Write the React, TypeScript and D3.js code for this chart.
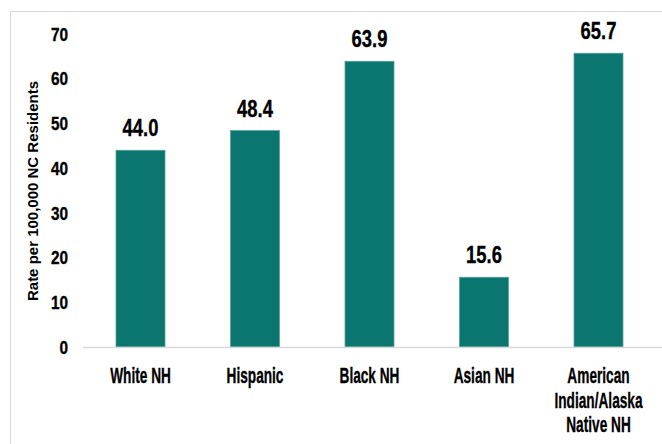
import React from "react";
import * as d3 from "d3";

const categories: string[][] = [
  ["White NH"],
  ["Hispanic"],
  ["Black NH"],
  ["Asian NH"],
  ["American", "Indian/Alaska", "Native NH"],
];
const values: number[] = [44.0, 48.4, 63.9, 15.6, 65.7];
const yTicks: number[] = [0, 10, 20, 30, 40, 50, 60, 70];
const yTitle = "Rate per 100,000 NC Residents";

const W = 662;
const H = 444;
const FONT = "'Liberation Sans', Arial, sans-serif";

function CText(props: {
  x: number;
  y: number;
  sx: number;
  size: number;
  anchor: string;
  dy?: string;
  children: React.ReactNode;
}) {
  return (
    <g transform={`translate(${props.x},${props.y}) scale(${props.sx},1)`}>
      <text
        x={0}
        y={0}
        dy={props.dy}
        textAnchor={props.anchor as any}
        fontFamily={FONT}
        fontWeight="bold"
        fontSize={props.size}
        fill="#000"
        stroke="#000"
        strokeWidth={0.35}
      >
        {props.children}
      </text>
    </g>
  );
}

export default function App() {
  const x = d3
    .scaleBand<number>()
    .domain(values.map((_, i) => i))
    .range([83.25, 655.75])
    .paddingInner(0.572)
    .paddingOuter(0.286);
  const y = d3.scaleLinear().domain([0, 70]).range([347, 34]);

  return (
    <svg
      width={W}
      height={H}
      style={{ position: "absolute", left: 0, top: 0, background: "#fff" }}
    >
      <rect x={0} y={0} width={W} height={H} fill="#fff" />
      {/* frame */}
      <line x1={10.5} y1={11.5} x2={W} y2={11.5} stroke="#d9d9d9" strokeWidth={1} />
      <line x1={10.5} y1={11.5} x2={10.5} y2={H} stroke="#d9d9d9" strokeWidth={1} />

      {/* y ticks */}
      {yTicks.map((t) => (
        <CText key={t} x={68} y={y(t)} dy="0.36em" sx={0.82} size={18.7} anchor="end">
          {t}
        </CText>
      ))}

      {/* y title */}
      <text
        transform={`translate(38,${191}) rotate(-90)`}
        textAnchor="middle"
        fontFamily={FONT}
        fontWeight="bold"
        fontSize={15}
        fill="#000"
      >
        {yTitle}
      </text>

      {/* bars */}
      {values.map((v, i) => (
        <rect
          key={i}
          x={x(i)!}
          y={y(v)}
          width={x.bandwidth()}
          height={y(0) - y(v)}
          fill="#0b7570"
          stroke="#5aa29c"
          strokeWidth={0.8}
        />
      ))}

      {/* baseline */}
      <line x1={83} y1={347.5} x2={W} y2={347.5} stroke="#d9d9d9" strokeWidth={1.5} />

      {/* value labels */}
      {values.map((v, i) => (
        <CText
          key={i}
          x={x(i)! + x.bandwidth() / 2}
          y={y(v) - 14}
          sx={0.8}
          size={23}
          anchor="middle"
        >
          {v.toFixed(1)}
        </CText>
      ))}

      {/* category labels */}
      {categories.map((lines, i) =>
        lines.map((l, j) => (
          <CText
            key={`${i}-${j}`}
            x={x(i)! + x.bandwidth() / 2}
            y={383 + j * 24.5}
            sx={0.61}
            size={22.4}
            anchor="middle"
          >
            {l}
          </CText>
        ))
      )}
    </svg>
  );
}
